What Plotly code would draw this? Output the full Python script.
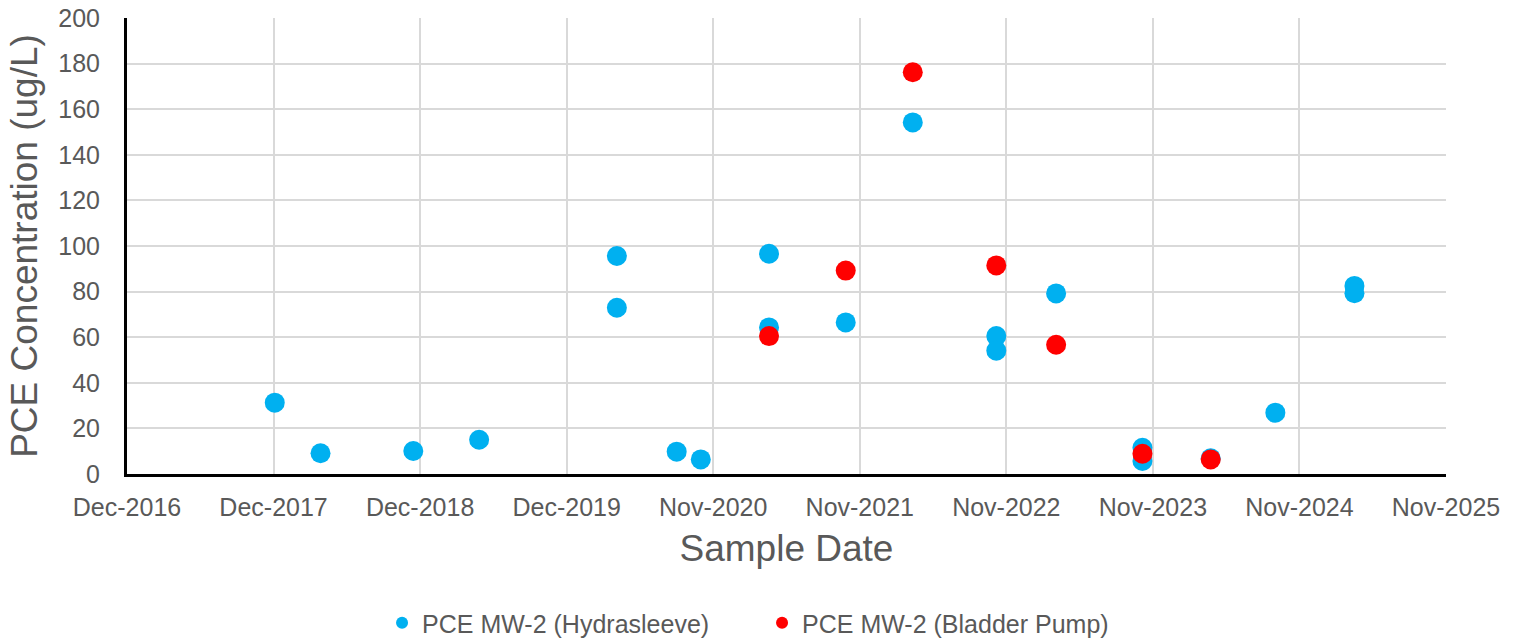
import plotly.graph_objects as go

# Hydrasleeve samples
hydra_dates = ["2017-12-04", "2018-03-28", "2018-11-14", "2019-04-27",
               "2020-04-04", "2020-04-04", "2020-08-31", "2020-10-30",
               "2021-04-18", "2021-04-18", "2021-10-26", "2022-04-11",
               "2022-11-05", "2022-11-05", "2023-04-03", "2023-11-04",
               "2023-11-04", "2024-04-22", "2024-09-30", "2025-04-15",
               "2025-04-15"]
hydra_vals = [31.3, 9.1, 10.1, 15.0,
              95.6, 72.9, 9.8, 6.4,
              96.6, 64.3, 66.5, 154.2,
              60.5, 54.1, 79.2, 11.5,
              5.7, 6.9, 26.9, 82.5,
              79.3]

# Bladder pump samples
bladder_dates = ["2021-04-18", "2021-10-26", "2022-04-11", "2022-11-05",
                 "2023-04-03", "2023-11-04", "2024-04-22"]
bladder_vals = [60.5, 89.2, 176.2, 91.5, 56.7, 8.9, 6.4]

tick_dates = ["2016-12-01", "2017-12-01", "2018-12-01", "2019-12-01",
              "2020-11-30", "2021-11-30", "2022-11-30", "2023-11-30",
              "2024-11-29", "2025-11-29"]
tick_labels = ["Dec-2016", "Dec-2017", "Dec-2018", "Dec-2019",
               "Nov-2020", "Nov-2021", "Nov-2022", "Nov-2023",
               "Nov-2024", "Nov-2025"]

FONT = "Liberation Sans, Arial, sans-serif"
GRAY = "#595959"

fig = go.Figure()
fig.add_trace(go.Scatter(x=hydra_dates, y=hydra_vals, mode="markers",
                         name="PCE MW-2 (Hydrasleeve)",
                         marker=dict(color="#00B0F0", size=20)))
fig.add_trace(go.Scatter(x=bladder_dates, y=bladder_vals, mode="markers",
                         name="PCE MW-2 (Bladder Pump)",
                         marker=dict(color="#FF0000", size=20)))

fig.update_layout(
    width=1515, height=642,
    margin=dict(l=127, r=69, t=18, b=168, autoexpand=False),
    paper_bgcolor="white", plot_bgcolor="white",
    font=dict(family=FONT, color=GRAY, size=24),
    showlegend=True,
    legend=dict(orientation="h", xref="container", x=0.503, xanchor="center",
                y=-0.3268, yanchor="middle",
                font=dict(size=25, color=GRAY), itemsizing="constant",
                itemwidth=30, entrywidth=335, entrywidthmode="pixels",
                traceorder="normal"),
    xaxis=dict(type="date", range=["2016-12-01", "2025-11-29"],
               tickvals=tick_dates, ticktext=tick_labels,
               showgrid=True, gridcolor="#D9D9D9", gridwidth=2,
               showline=True, linecolor="black", linewidth=3,
               zeroline=False, ticks="", ticklabelstandoff=9,
               automargin=False,
               tickfont=dict(size=25, color=GRAY),
               title=dict(text="Sample Date", font=dict(size=37, color=GRAY), standoff=16)),
    yaxis=dict(range=[0, 200], dtick=20,
               showgrid=True, gridcolor="#D9D9D9", gridwidth=2,
               showline=True, linecolor="black", linewidth=3,
               zeroline=False, ticks="", ticklabelstandoff=19,
               automargin=False,
               tickfont=dict(size=25, color=GRAY),
               title=dict(text="PCE Concentration (ug/L)", font=dict(size=37, color=GRAY), standoff=10)),
)

fig.write_html("out.html", config={"displayModeBar": False},
               post_script="document.body.style.margin='0';document.body.style.overflow='hidden';")
